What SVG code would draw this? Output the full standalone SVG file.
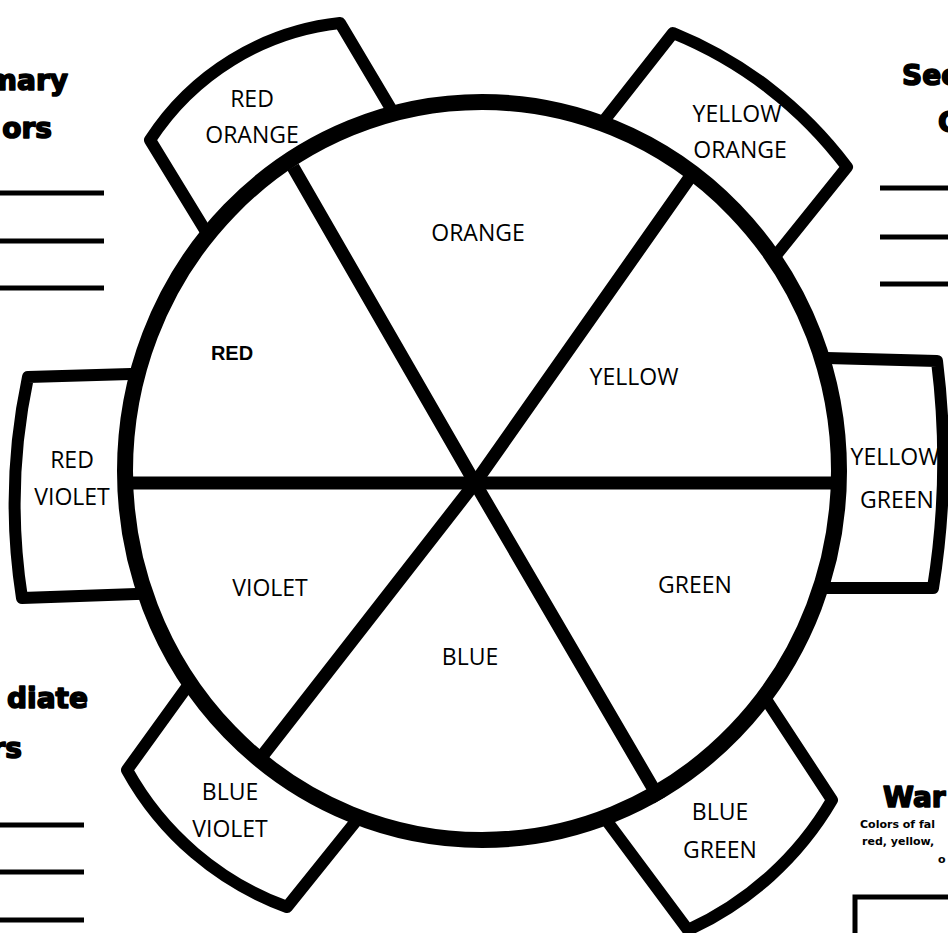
<svg xmlns="http://www.w3.org/2000/svg" width="948" height="933" viewBox="0 0 948 933">
<style>
.tab{fill:#fff;stroke:#000;stroke-width:12;stroke-linejoin:round}
.lbl{font-family:"Open Sans","Liberation Sans",sans-serif;font-size:23px;fill:#000;text-anchor:middle}
.hd{font-family:"DejaVu Sans","Liberation Sans",sans-serif;font-weight:bold;font-size:28px;fill:#000;stroke:#000;stroke-width:1.6;stroke-linejoin:round}
.sm{font-family:"DejaVu Sans","Liberation Sans",sans-serif;font-weight:bold;font-size:11px;fill:#000}
.rule{stroke:#000;stroke-width:5}
.spoke{stroke:#000;stroke-width:13;fill:none}
</style>
<rect width="948" height="933" fill="#fff"/>

<g id="side-texts">
  <text class="hd" x="68" y="90" text-anchor="end">mary</text>
  <text class="hd" x="52" y="138" text-anchor="end">ors</text>
  <line class="rule" x1="0" y1="193" x2="104" y2="193"/>
  <line class="rule" x1="0" y1="241" x2="104" y2="241"/>
  <line class="rule" x1="0" y1="288" x2="104" y2="288"/>

  <text class="hd" x="902" y="85">Sec</text>
  <text class="hd" x="938" y="132">C</text>
  <line class="rule" x1="880" y1="188" x2="948" y2="188"/>
  <line class="rule" x1="880" y1="237" x2="948" y2="237"/>
  <line class="rule" x1="880" y1="284" x2="948" y2="284"/>

  <text class="hd" x="88" y="708" text-anchor="end">diate</text>
  <text class="hd" x="22" y="758" text-anchor="end">rs</text>
  <line class="rule" x1="0" y1="825" x2="84" y2="825"/>
  <line class="rule" x1="0" y1="872" x2="84" y2="872"/>
  <line class="rule" x1="0" y1="920" x2="84" y2="920"/>

  <text class="hd" x="883" y="807" font-size="26">War</text>
  <text class="sm" x="860" y="828">Colors of fal</text>
  <text class="sm" x="862" y="845">red, yellow,</text>
  <text class="sm" x="938" y="863">o</text>
  <rect x="855" y="897" width="120" height="60" fill="none" stroke="#000" stroke-width="5"/>
</g>

<g id="tab-red-orange">
  <path class="tab" d="M219,253 L150,140 A260 260 0 0 1 340,23 L403,129 Z"/>
  <text class="lbl" x="252" y="107">RED</text>
  <text class="lbl" x="252" y="143">ORANGE</text>
</g>
<g id="tab-yellow-orange">
  <path class="tab" d="M588,141 L673,33 A410 410 0 0 1 847,167 L761,274 Z"/>
</g>
<g id="tab-red-violet">
  <path class="tab" d="M165,373 L28,377 A610 610 0 0 0 22,598 L165,593 Z"/>
</g>
<g id="tab-yellow-green">
  <path class="tab" d="M790,357 L937,361 A800 800 0 0 1 933,588 L800,588 Z"/>
</g>
<g id="tab-blue-violet">
  <path class="tab" d="M210,655 L127,770 A300 300 0 0 0 287,907 L373,800 Z"/>
</g>
<g id="tab-blue-green">
  <path class="tab" d="M752,678 L832,800 A320 320 0 0 1 688,930 L595,805 Z"/>
</g>

<g id="wheel">
  <ellipse cx="482" cy="471" rx="357" ry="369" fill="#fff" stroke="#000" stroke-width="16"/>
</g>

<g id="connectors">
  <line class="spoke" x1="125" y1="483" x2="840" y2="483"/>
  <polyline class="spoke" points="293,167 475,483 660,800"/>
  <polyline class="spoke" points="693,173 475,483 263,755"/>
</g>

<g id="tab-labels">
  <text class="lbl" x="737" y="122">YELLOW</text>
  <text class="lbl" x="740" y="158">ORANGE</text>
  <text class="lbl" x="72" y="468">RED</text>
  <text class="lbl" x="72" y="505">VIOLET</text>
  <text class="lbl" x="895" y="465">YELLOW</text>
  <text class="lbl" x="897" y="508">GREEN</text>
  <text class="lbl" x="230" y="800">BLUE</text>
  <text class="lbl" x="230" y="837">VIOLET</text>
  <text class="lbl" x="720" y="820">BLUE</text>
  <text class="lbl" x="720" y="858">GREEN</text>
</g>

<g id="segment-orange"><text class="lbl" x="478" y="241">ORANGE</text></g>
<g id="segment-red"><text x="232" y="360" text-anchor="middle" font-family="Liberation Sans, Arial, sans-serif" font-weight="bold" font-size="20" fill="#000">RED</text></g>
<g id="segment-yellow"><text class="lbl" x="634" y="385">YELLOW</text></g>
<g id="segment-violet"><text class="lbl" x="270" y="596">VIOLET</text></g>
<g id="segment-green"><text class="lbl" x="695" y="593">GREEN</text></g>
<g id="segment-blue"><text class="lbl" x="470" y="665">BLUE</text></g>
</svg>
